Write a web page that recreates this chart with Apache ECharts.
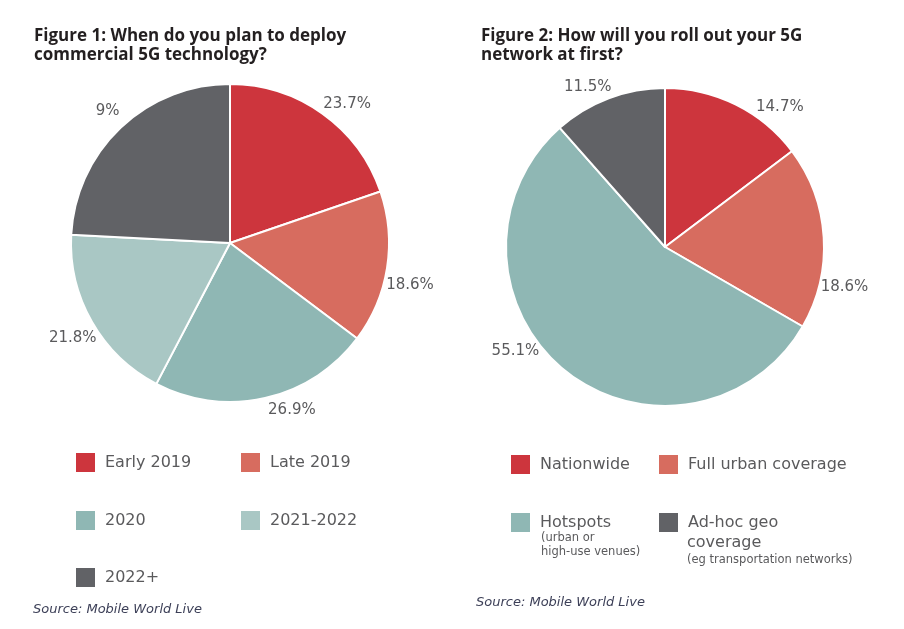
<!DOCTYPE html>
<html>
<head>
<meta charset="utf-8">
<script src="https://cdn.jsdelivr.net/npm/echarts@6/dist/echarts.min.js"></script>
<style>
html,body{margin:0;padding:0;background:#fff;}
#chart{width:904px;height:629px;}
</style>
</head>
<body>
<div id="chart"></div>
<script>
// ---------- DATA ----------
// Figure 1
const fig1Categories = ['Early 2019', 'Late 2019', '2020', '2021-2022', '2022+'];
// slice sizes as drawn (the 2022+ slice is drawn at ~29 although labelled "9%")
const fig1Values = [23.7, 18.6, 26.9, 21.8, 29];
const fig1Labels = ['23.7%', '18.6%', '26.9%', '21.8%', '9%'];

// Figure 2
const fig2Categories = ['Nationwide', 'Full urban coverage', 'Hotspots', 'Ad-hoc geo coverage'];
const fig2Values = [14.7, 18.6, 55.1, 11.5];
const fig2Labels = ['14.7%', '18.6%', '55.1%', '11.5%'];

const fig1Title = 'Figure 1: When do you plan to deploy\ncommercial 5G technology?';
const fig2Title = 'Figure 2: How will you roll out your 5G\nnetwork at first?';
const sourceText = 'Source: Mobile World Live';

// ---------- STYLE ----------
const fig1Colors = ['#cd353d', '#d76c5f', '#8fb7b4', '#a9c7c4', '#616266'];
const fig2Colors = ['#cd353d', '#d76c5f', '#8fb7b4', '#616266'];
const FONT = '"DejaVu Sans", "Open Sans", sans-serif';
const TFONT = '"Open Sans", "Noto Sans", sans-serif';
const TXT = '#5a5a5c';

// label placement: angular nudge (deg) and distance from centre (px)
const fig1Nudge = [4.5, 4.3, -7.6, -1.6, 0.7];
const fig1Dist = [182, 185, 178, 184, 180];
const fig2Nudge = [12.9, 16.2, 16, -5];
const fig2Dist = [181, 184, 182, 178];

const pie1Center = [230, 243];
const pie2Center = [665, 247];
const R = 159;

function midAngles(values) {
  const total = values.reduce((a, b) => a + b, 0);
  let acc = 0;
  return values.map(v => { const m = (acc + v / 2) / total * 360; acc += v; return m; });
}
const fig1Mid = midAngles(fig1Values);
const fig2Mid = midAngles(fig2Values);

function layoutFn(center, mids, nudge, dist) {
  return function (params) {
    const i = params.dataIndex;
    const a = (mids[i] + nudge[i]) * Math.PI / 180;
    return {
      x: center[0] + dist[i] * Math.sin(a),
      y: center[1] - dist[i] * Math.cos(a),
      align: 'center',
      verticalAlign: 'middle'
    };
  };
}

function pieSeries(cats, vals, labels, colors, center, mids, nudge, dist) {
  return {
    type: 'pie',
    center: center,
    radius: R,
    startAngle: 90,
    clockwise: true,
    avoidLabelOverlap: false,
    animation: false,
    silent: true,
    itemStyle: { borderColor: '#ffffff', borderWidth: 2 },
    label: {
      show: true,
      position: 'outside',
      formatter: p => labels[p.dataIndex],
      fontFamily: FONT,
      fontSize: 15,
      color: TXT
    },
    labelLine: { show: false },
    labelLayout: layoutFn(center, mids, nudge, dist),
    data: cats.map((c, i) => ({ name: c, value: vals[i], itemStyle: { color: colors[i] } }))
  };
}

function legendItem(name, left, top, formatter) {
  const o = {
    data: [name],
    left: left,
    top: top,
    padding: 0,
    icon: 'rect',
    itemWidth: 19,
    itemHeight: 19,
    selectedMode: false,
    itemStyle: { borderWidth: 0 },
    textStyle: { fontFamily: FONT, fontSize: 16, color: TXT, padding: [0, 0, 0, 5] }
  };
  if (formatter) o.formatter = formatter;
  return o;
}

const legends = [
  legendItem(fig1Categories[0], 76, 453),
  legendItem(fig1Categories[1], 241, 453),
  legendItem(fig1Categories[2], 76, 511),
  legendItem(fig1Categories[3], 241, 511),
  legendItem(fig1Categories[4], 76, 568),
  legendItem(fig2Categories[0], 511, 455),
  legendItem(fig2Categories[1], 659, 455),
  legendItem(fig2Categories[2], 511, 513),
  legendItem(fig2Categories[3], 659, 513, () => 'Ad-hoc geo')
];

const subStyle = { fontFamily: FONT, fontSize: 11.5, fill: TXT, verticalAlign: 'middle' };
const srcStyle = { fontFamily: FONT, fontStyle: 'italic', fontSize: 13, fill: '#3d4058', verticalAlign: 'middle' };

const option = {
  backgroundColor: '#ffffff',
  animation: false,
  title: [
    { text: fig1Title, left: 34, top: 27, padding: 0,
      textStyle: { fontFamily: TFONT, fontWeight: 'bold', fontSize: 17, lineHeight: 19, color: '#231f20' } },
    { text: fig2Title, left: 481, top: 27, padding: 0,
      textStyle: { fontFamily: TFONT, fontWeight: 'bold', fontSize: 17, lineHeight: 19, color: '#231f20' } }
  ],
  legend: legends,
  graphic: [
    { type: 'text', x: 541, y: 538, style: Object.assign({ text: '(urban or' }, subStyle) },
    { type: 'text', x: 541, y: 552, style: Object.assign({ text: 'high-use venues)' }, subStyle) },
    { type: 'text', x: 687, y: 543, style: { text: 'coverage', fontFamily: FONT, fontSize: 16, fill: TXT, verticalAlign: 'middle' } },
    { type: 'text', x: 687, y: 560, style: Object.assign({ text: '(eg transportation networks)' }, subStyle) },
    { type: 'text', x: 33, y: 610, style: Object.assign({ text: sourceText }, srcStyle) },
    { type: 'text', x: 476, y: 603, style: Object.assign({ text: sourceText }, srcStyle) }
  ],
  series: [
    pieSeries(fig1Categories, fig1Values, fig1Labels, fig1Colors, pie1Center, fig1Mid, fig1Nudge, fig1Dist),
    pieSeries(fig2Categories, fig2Values, fig2Labels, fig2Colors, pie2Center, fig2Mid, fig2Nudge, fig2Dist)
  ]
};

const chart = echarts.init(document.getElementById('chart'), null, { renderer: 'canvas' });
chart.setOption(option);
</script>
</body>
</html>
